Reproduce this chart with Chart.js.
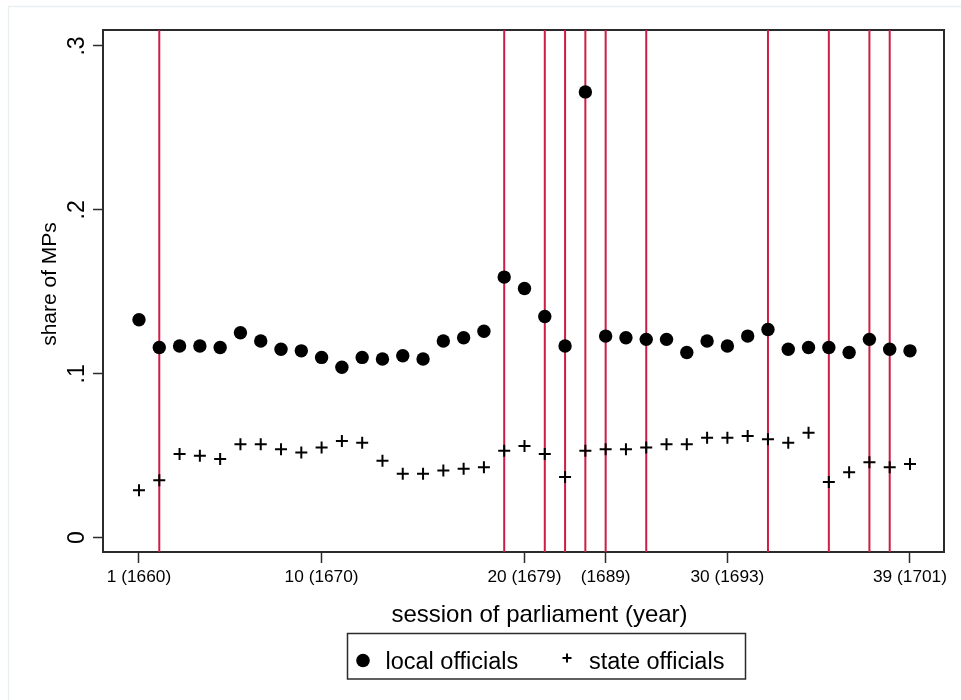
<!DOCTYPE html>
<html>
<head>
<meta charset="utf-8">
<title>Local and state officials among MPs</title>
<script src="https://cdn.jsdelivr.net/npm/chart.js@4.4.0/dist/chart.umd.min.js"></script>
<style>
  html, body { margin: 0; padding: 0; background: #fff; }
  #wrap { width: 961px; height: 700px; }
</style>
</head>
<body>
<div id="wrap"><canvas id="chart" width="961" height="700"></canvas></div>
<script>
// Session numbers of parliament
const sessions = [1,2,3,4,5,6,7,8,9,10,11,12,13,14,15,16,17,18,19,20,
                  21,22,23,24,25,26,27,28,29,30,31,32,33,34,35,36,37,38,39];

// Share of MPs holding local offices, per session
const localOfficials = [0.133,0.116,0.117,0.117,0.116,0.125,0.120,0.115,0.114,0.110,
                        0.104,0.110,0.109,0.111,0.109,0.120,0.122,0.126,0.159,0.152,
                        0.135,0.117,0.272,0.123,0.122,0.121,0.121,0.113,0.120,0.117,
                        0.123,0.127,0.115,0.116,0.116,0.113,0.121,0.115,0.114];

// Share of MPs holding state offices, per session
const stateOfficials = [0.029,0.035,0.051,0.050,0.048,0.057,0.057,0.054,0.052,0.055,
                        0.059,0.058,0.047,0.039,0.039,0.041,0.042,0.043,0.053,0.056,
                        0.051,0.037,0.053,0.054,0.054,0.055,0.057,0.057,0.061,0.061,
                        0.062,0.060,0.058,0.064,0.034,0.040,0.046,0.043,0.045];

// Sessions marked with a vertical reference line
const breakSessions = [2,19,21,22,23,24,26,32,35,37,38];

// Axis ticks and their labels
const xTickValues = [1,10,20,24,30,39];
const xTickLabels = ['1 (1660)','10 (1670)','20 (1679)','(1689)','30 (1693)','39 (1701)'];
const yTickValues = [0,0.1,0.2,0.3];
const yTickLabels = ['0','.1','.2','.3'];

const seriesNames = ['local officials','state officials'];
const xTitle = 'session of parliament (year)';
const yTitle = 'share of MPs';

// Axis ranges
const X_MIN = -0.774, X_MAX = 40.676;
const Y_MIN = -0.00873, Y_MAX = 0.30976;

const FONT = "'Liberation Sans', Arial, Helvetica, sans-serif";
const RED = 'rgb(206,28,70)';
const FRAME = '#2b2b2b';

const toPoints = (ys) => sessions.map((s, i) => ({ x: s, y: ys[i] }));

const breakLines = breakSessions.map(s => ({
  label: 'break ' + s,
  data: [{ x: s, y: Y_MIN }, { x: s, y: Y_MAX }],
  showLine: true,
  borderColor: RED,
  borderWidth: 2,
  pointRadius: 0,
  fill: false,
  order: 5
}));

const decor = {
  id: 'decor',
  beforeDraw(chart) {
    const ctx = chart.ctx;
    ctx.save();
    ctx.fillStyle = '#fff';
    ctx.fillRect(0, 0, chart.width, chart.height);
    // faint outer graph region outline
    ctx.strokeStyle = '#e9eff1';
    ctx.lineWidth = 1.5;
    ctx.beginPath();
    ctx.moveTo(8.5, chart.height + 5);
    ctx.lineTo(8.5, 6.5);
    ctx.lineTo(chart.width + 5, 6.5);
    ctx.stroke();
    ctx.restore();
  },
  beforeDatasetsDraw(chart) {
    const ctx = chart.ctx, a = chart.chartArea;
    ctx.save();
    ctx.strokeStyle = FRAME;
    ctx.lineWidth = 2;
    ctx.strokeRect(a.left, a.top, a.right - a.left, a.bottom - a.top);
    ctx.restore();
  },
  afterDraw(chart) {
    const ctx = chart.ctx;
    const ys = chart.scales.y;
    ctx.save();
    ctx.fillStyle = '#000';

    // rotated y tick labels
    ctx.font = '23px ' + FONT;
    ctx.textAlign = 'center';
    ctx.textBaseline = 'alphabetic';
    yTickValues.forEach((v, i) => {
      const py = ys.getPixelForValue(v);
      ctx.save();
      ctx.translate(84, py);
      ctx.rotate(-Math.PI / 2);
      ctx.fillText(yTickLabels[i], 0, 0);
      ctx.restore();
    });

    // y axis title
    ctx.font = '21px ' + FONT;
    ctx.save();
    ctx.translate(56, 284);
    ctx.rotate(-Math.PI / 2);
    ctx.fillText(yTitle, 0, 0);
    ctx.restore();

    // x axis title
    ctx.font = '24px ' + FONT;
    ctx.fillText(xTitle, 539.5, 622);

    // legend
    ctx.strokeStyle = FRAME;
    ctx.lineWidth = 1.5;
    ctx.strokeRect(347.5, 633.5, 398, 45.5);
    ctx.beginPath();
    ctx.arc(363, 660.5, 6.8, 0, Math.PI * 2);
    ctx.fill();
    ctx.strokeStyle = '#000';
    ctx.lineWidth = 2;
    ctx.beginPath();
    ctx.moveTo(562.5, 658); ctx.lineTo(571.5, 658);
    ctx.moveTo(567, 653.5); ctx.lineTo(567, 662.5);
    ctx.stroke();
    ctx.font = '23.5px ' + FONT;
    ctx.textAlign = 'left';
    ctx.fillText(seriesNames[0], 385.5, 668.5);
    ctx.fillText(seriesNames[1], 589, 668.5);
    ctx.restore();
  }
};

new Chart(document.getElementById('chart'), {
  type: 'scatter',
  data: {
    datasets: [
      {
        label: seriesNames[0],
        data: toPoints(localOfficials),
        pointStyle: 'circle',
        pointRadius: 6.7,
        backgroundColor: '#000',
        borderColor: '#000',
        borderWidth: 0,
        order: 0
      },
      {
        label: seriesNames[1],
        data: toPoints(stateOfficials),
        pointStyle: 'cross',
        pointRadius: 6,
        borderColor: '#000',
        borderWidth: 2,
        order: 1
      },
      ...breakLines
    ]
  },
  options: {
    responsive: false,
    animation: false,
    events: [],
    layout: { padding: { left: 0, top: 30, right: 17, bottom: 0 } },
    plugins: { legend: { display: false }, tooltip: { enabled: false } },
    scales: {
      x: {
        type: 'linear',
        min: X_MIN,
        max: X_MAX,
        afterBuildTicks: (s) => { s.ticks = xTickValues.map(v => ({ value: v })); },
        afterFit: (s) => { s.height = 148; },
        ticks: {
          autoSkip: false,
          maxRotation: 0,
          minRotation: 0,
          padding: 4,
          color: '#000',
          font: { family: FONT, size: 17.3 },
          callback: (v) => {
            const i = xTickValues.indexOf(v);
            return i >= 0 ? xTickLabels[i] : '';
          }
        },
        grid: {
          drawOnChartArea: false,
          drawTicks: true,
          tickLength: 11,
          tickColor: FRAME,
          tickWidth: 1.5
        },
        border: { display: false }
      },
      y: {
        type: 'linear',
        min: Y_MIN,
        max: Y_MAX,
        afterBuildTicks: (s) => { s.ticks = yTickValues.map(v => ({ value: v })); },
        afterFit: (s) => { s.width = 103; },
        ticks: { display: false },
        grid: {
          drawOnChartArea: false,
          drawTicks: true,
          tickLength: 10,
          tickColor: FRAME,
          tickWidth: 1.5
        },
        border: { display: false }
      }
    }
  },
  plugins: [decor]
});
</script>
</body>
</html>
